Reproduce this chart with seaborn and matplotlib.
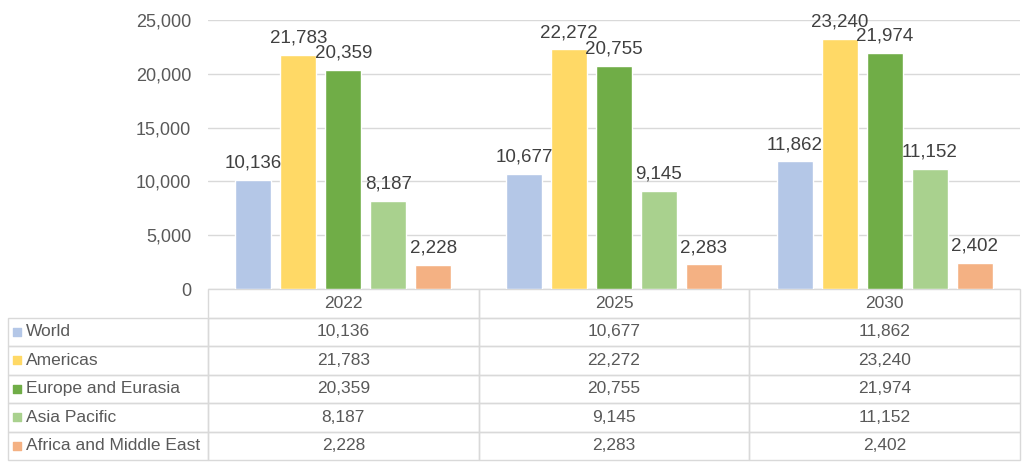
import matplotlib
matplotlib.use("Agg")

import matplotlib.pyplot as plt
import pandas as pd
import seaborn as sns
from matplotlib.ticker import FuncFormatter
from matplotlib.table import Table

# --- dados -------------------------------------------------------------------
anos = ["2022", "2025", "2030"]
regioes = ["World", "Americas", "Europe and Eurasia", "Asia Pacific",
           "Africa and Middle East"]
world = [10136, 10677, 11862]
americas = [21783, 22272, 23240]
europe = [20359, 20755, 21974]
asia_pacific = [8187, 9145, 11152]
africa_me = [2228, 2283, 2402]
cores = ["#B4C7E7", "#FFD966", "#70AD47", "#A9D18E", "#F4B183"]

series = [world, americas, europe, asia_pacific, africa_me]
df = pd.DataFrame([
    {"ano": ano, "regiao": reg, "valor": v}
    for reg, vals in zip(regioes, series)
    for ano, v in zip(anos, vals)
])

sns.set_style("white")
plt.rcParams["font.family"] = ["Liberation Sans", "DejaVu Sans"]
CINZA = "#595959"
GRADE = "#D9D9D9"

W, H = 1030, 470
fig = plt.figure(figsize=(W / 100, H / 100), dpi=100)
ax_l, ax_r, ax_t, ax_b = 208, 1020, 20, 289
ax = fig.add_axes([ax_l / W, 1 - ax_b / H, (ax_r - ax_l) / W, (ax_b - ax_t) / H])

sns.barplot(data=df, x="ano", y="valor", hue="regiao", hue_order=regioes,
            palette=cores, width=0.83, gap=0.2, saturation=1,
            legend=False, ax=ax)

for cont in ax.containers:
    ax.bar_label(cont, fmt="{:,.0f}", padding=6, fontsize=13.5, color="#404040")

ax.set_xlim(-0.5, 2.5)
ax.set_ylim(0, 25000)
ax.set_yticks(range(0, 25001, 5000))
ax.yaxis.set_major_formatter(FuncFormatter(lambda v, _: f"{v:,.0f}"))
ax.set_xticks([])
ax.set_xlabel("")
ax.set_ylabel("")
ax.yaxis.grid(True, color=GRADE, lw=1)
ax.set_axisbelow(True)
for s in ax.spines.values():
    s.set_visible(False)
ax.tick_params(axis="y", length=0, pad=12, labelsize=13, labelcolor=CINZA)

# --- tabela de dados ---------------------------------------------------------
aw = ax_r - ax_l
ah = ax_b - ax_t
tab_left = 8
tab_h = 171
larg_rot = ax_l - tab_left
larg_col = aw / 3
total_w = larg_rot + aw
n_linhas = len(regioes) + 1

tab = Table(ax, bbox=[(tab_left - ax_l) / aw, -tab_h / ah, total_w / aw, tab_h / ah])
h_linha = 1 / n_linhas
for j, ano in enumerate(anos):
    tab.add_cell(0, j + 1, width=larg_col / total_w, height=h_linha,
                 text=ano, loc="center", facecolor="none", edgecolor=GRADE)
for i, (reg, vals) in enumerate(zip(regioes, series), start=1):
    tab.add_cell(i, 0, width=larg_rot / total_w, height=h_linha,
                 text=reg, loc="left", facecolor="none", edgecolor=GRADE)
    for j, v in enumerate(vals):
        tab.add_cell(i, j + 1, width=larg_col / total_w, height=h_linha,
                     text=f"{v:,}", loc="center", facecolor="none",
                     edgecolor=GRADE)
tab.auto_set_font_size(False)
tab.set_fontsize(12.5)
for (r, c), cell in tab.get_celld().items():
    cell.set_linewidth(1)
    cell.get_text().set_color(CINZA)
    if c == 0:
        cell.PAD = 0.09
ax.add_table(tab)

# marcadores de cor nas linhas da tabela
alt_linha = tab_h / ah / n_linhas
ys = [-(i + 0.5) * alt_linha for i in range(1, n_linhas)]
ax.scatter([(17 - ax_l) / aw] * len(regioes), ys, marker="s", s=34,
           c=cores, transform=ax.transAxes, clip_on=False, zorder=5)

fig.savefig("out.png", dpi=100)
plt.close(fig)
